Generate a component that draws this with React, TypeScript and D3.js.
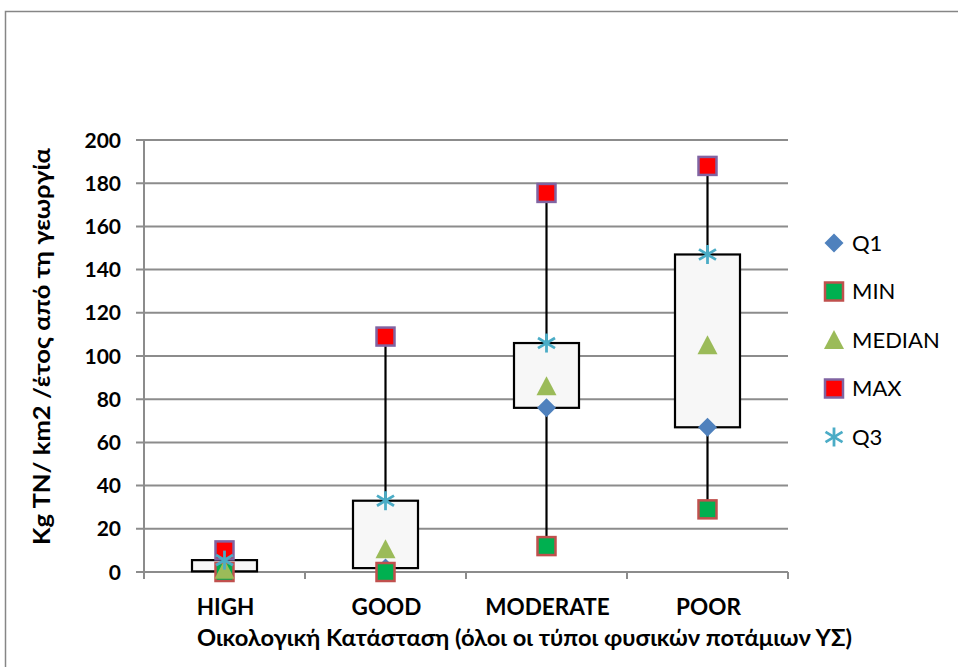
import React from "react";
import * as d3 from "d3";

const categories = ["HIGH", "GOOD", "MODERATE", "POOR"];
const q1Values = [0.3, 1.8, 76, 67];
const minValues = [0, 0, 12, 29];
const medianValues = [1, 10.5, 86, 105];
const maxValues = [10, 109, 175.5, 188];
const q3Values = [5.5, 33, 106, 147];
const yTicks = [0, 20, 40, 60, 80, 100, 120, 140, 160, 180, 200];
const legendItems = ["Q1", "MIN", "MEDIAN", "MAX", "Q3"];

const W = 958, H = 667;
const plot = { left: 144, right: 788, top: 140, bottom: 572 };
const FONT = "Lato, 'Open Sans', sans-serif";

function Marker({ kind, x, y }: { kind: string; x: number; y: number }) {
  if (kind === "Q1") {
    const s = 9.5;
    return <path d={`M${x},${y - s}L${x + s},${y}L${x},${y + s}L${x - s},${y}Z`} fill="#4F81BD" />;
  }
  if (kind === "MIN") {
    return <rect x={x - 9} y={y - 9} width={18} height={18} fill="#00B050" stroke="#C0504D" strokeWidth={2.5} />;
  }
  if (kind === "MAX") {
    return <rect x={x - 9} y={y - 9} width={18} height={18} fill="#FF0000" stroke="#8064A2" strokeWidth={2.5} />;
  }
  if (kind === "MEDIAN") {
    const s = 10;
    return <path d={`M${x},${y - s}L${x + s},${y + s * 0.9}L${x - s},${y + s * 0.9}Z`} fill="#9BBB59" />;
  }
  const s = 8.5;
  return (
    <g stroke="#4BACC6" strokeWidth={2.8}>
      <line x1={x - s} y1={y - s * 0.6} x2={x + s} y2={y + s * 0.6} />
      <line x1={x - s} y1={y + s * 0.6} x2={x + s} y2={y - s * 0.6} />
      <line x1={x} y1={y - s - 1} x2={x} y2={y + s + 1} />
    </g>
  );
}

export default function App() {
  const x = d3.scaleBand<string>().domain(categories).range([plot.left, plot.right]).padding(0);
  const y = d3.scaleLinear().domain([0, 200]).range([plot.bottom, plot.top]);
  const boxW = 65;
  const bounds = d3.range(categories.length + 1).map((i) => plot.left + i * x.bandwidth());

  return (
    <svg width={W} height={H} style={{ position: "absolute", left: 0, top: 0, background: "#fff" }} fontFamily={FONT}>
      <rect x={5.5} y={11.5} width={W + 20} height={H + 20} fill="#fff" stroke="#868686" strokeWidth={1.5} />
      {yTicks.map((t) => (
        <line key={t} x1={plot.left - 8} x2={plot.right} y1={y(t)} y2={y(t)} stroke="#8c8c8c" strokeWidth={2} />
      ))}
      <line x1={plot.left} x2={plot.left} y1={plot.top} y2={plot.bottom} stroke="#8c8c8c" strokeWidth={2} />
      {bounds.map((b, i) => (
        <line key={i} x1={b} x2={b} y1={plot.bottom} y2={plot.bottom + 7} stroke="#8c8c8c" strokeWidth={2} />
      ))}
      {yTicks.map((t) => (
        <text key={t} x={121} y={y(t)} dy="0.36em" textAnchor="end" fontSize={21} fontWeight="bold" fill="#000">
          {t}
        </text>
      ))}
      {categories.map((c) => (
        <text key={c} x={x(c)! + x.bandwidth() / 2 + 1} y={615} textAnchor="middle" fontSize={22.5} fontWeight="bold" fill="#000">
          {c}
        </text>
      ))}
      <text x={197} y={646} textLength={655} lengthAdjust="spacingAndGlyphs" fontSize={22.5} fontWeight="bold" fill="#000">
        Οικολογική Κατάσταση  (όλοι οι τύποι φυσικών ποτάμιων ΥΣ)
      </text>
      <text transform={`translate(50,545) rotate(-90)`} textLength={397} lengthAdjust="spacingAndGlyphs" fontSize={22.5} fontWeight="bold" fill="#000">
        Kg TN/ km2 /έτος από τη γεωργία
      </text>
      {categories.map((c, i) => {
        const cx = x(c)! + x.bandwidth() / 2;
        return (
          <g key={c}>
            <line x1={cx} x2={cx} y1={y(maxValues[i])} y2={y(q3Values[i])} stroke="#000" strokeWidth={2.2} />
            <line x1={cx} x2={cx} y1={y(q1Values[i])} y2={y(minValues[i])} stroke="#000" strokeWidth={2.2} />
            <rect x={cx - boxW / 2} width={boxW} y={y(q3Values[i])} height={y(q1Values[i]) - y(q3Values[i])} fill="#f7f7f7" stroke="#000" strokeWidth={2.2} />
          </g>
        );
      })}
      {categories.map((c, i) => {
        const cx = x(c)! + x.bandwidth() / 2;
        return (
          <g key={c}>
            <Marker kind="Q1" x={cx} y={y(q1Values[i])} />
            <Marker kind="MIN" x={cx} y={y(minValues[i])} />
            <Marker kind="MEDIAN" x={cx} y={y(medianValues[i])} />
            <Marker kind="MAX" x={cx} y={y(maxValues[i])} />
            <Marker kind="Q3" x={cx} y={y(q3Values[i])} />
          </g>
        );
      })}
      {legendItems.map((k, i) => {
        const ly = 243 + i * 48.5;
        return (
          <g key={k}>
            <Marker kind={k} x={834} y={ly} />
            <text x={852} y={ly} dy="0.36em" fontSize={22} fill="#000">
              {k}
            </text>
          </g>
        );
      })}
    </svg>
  );
}
